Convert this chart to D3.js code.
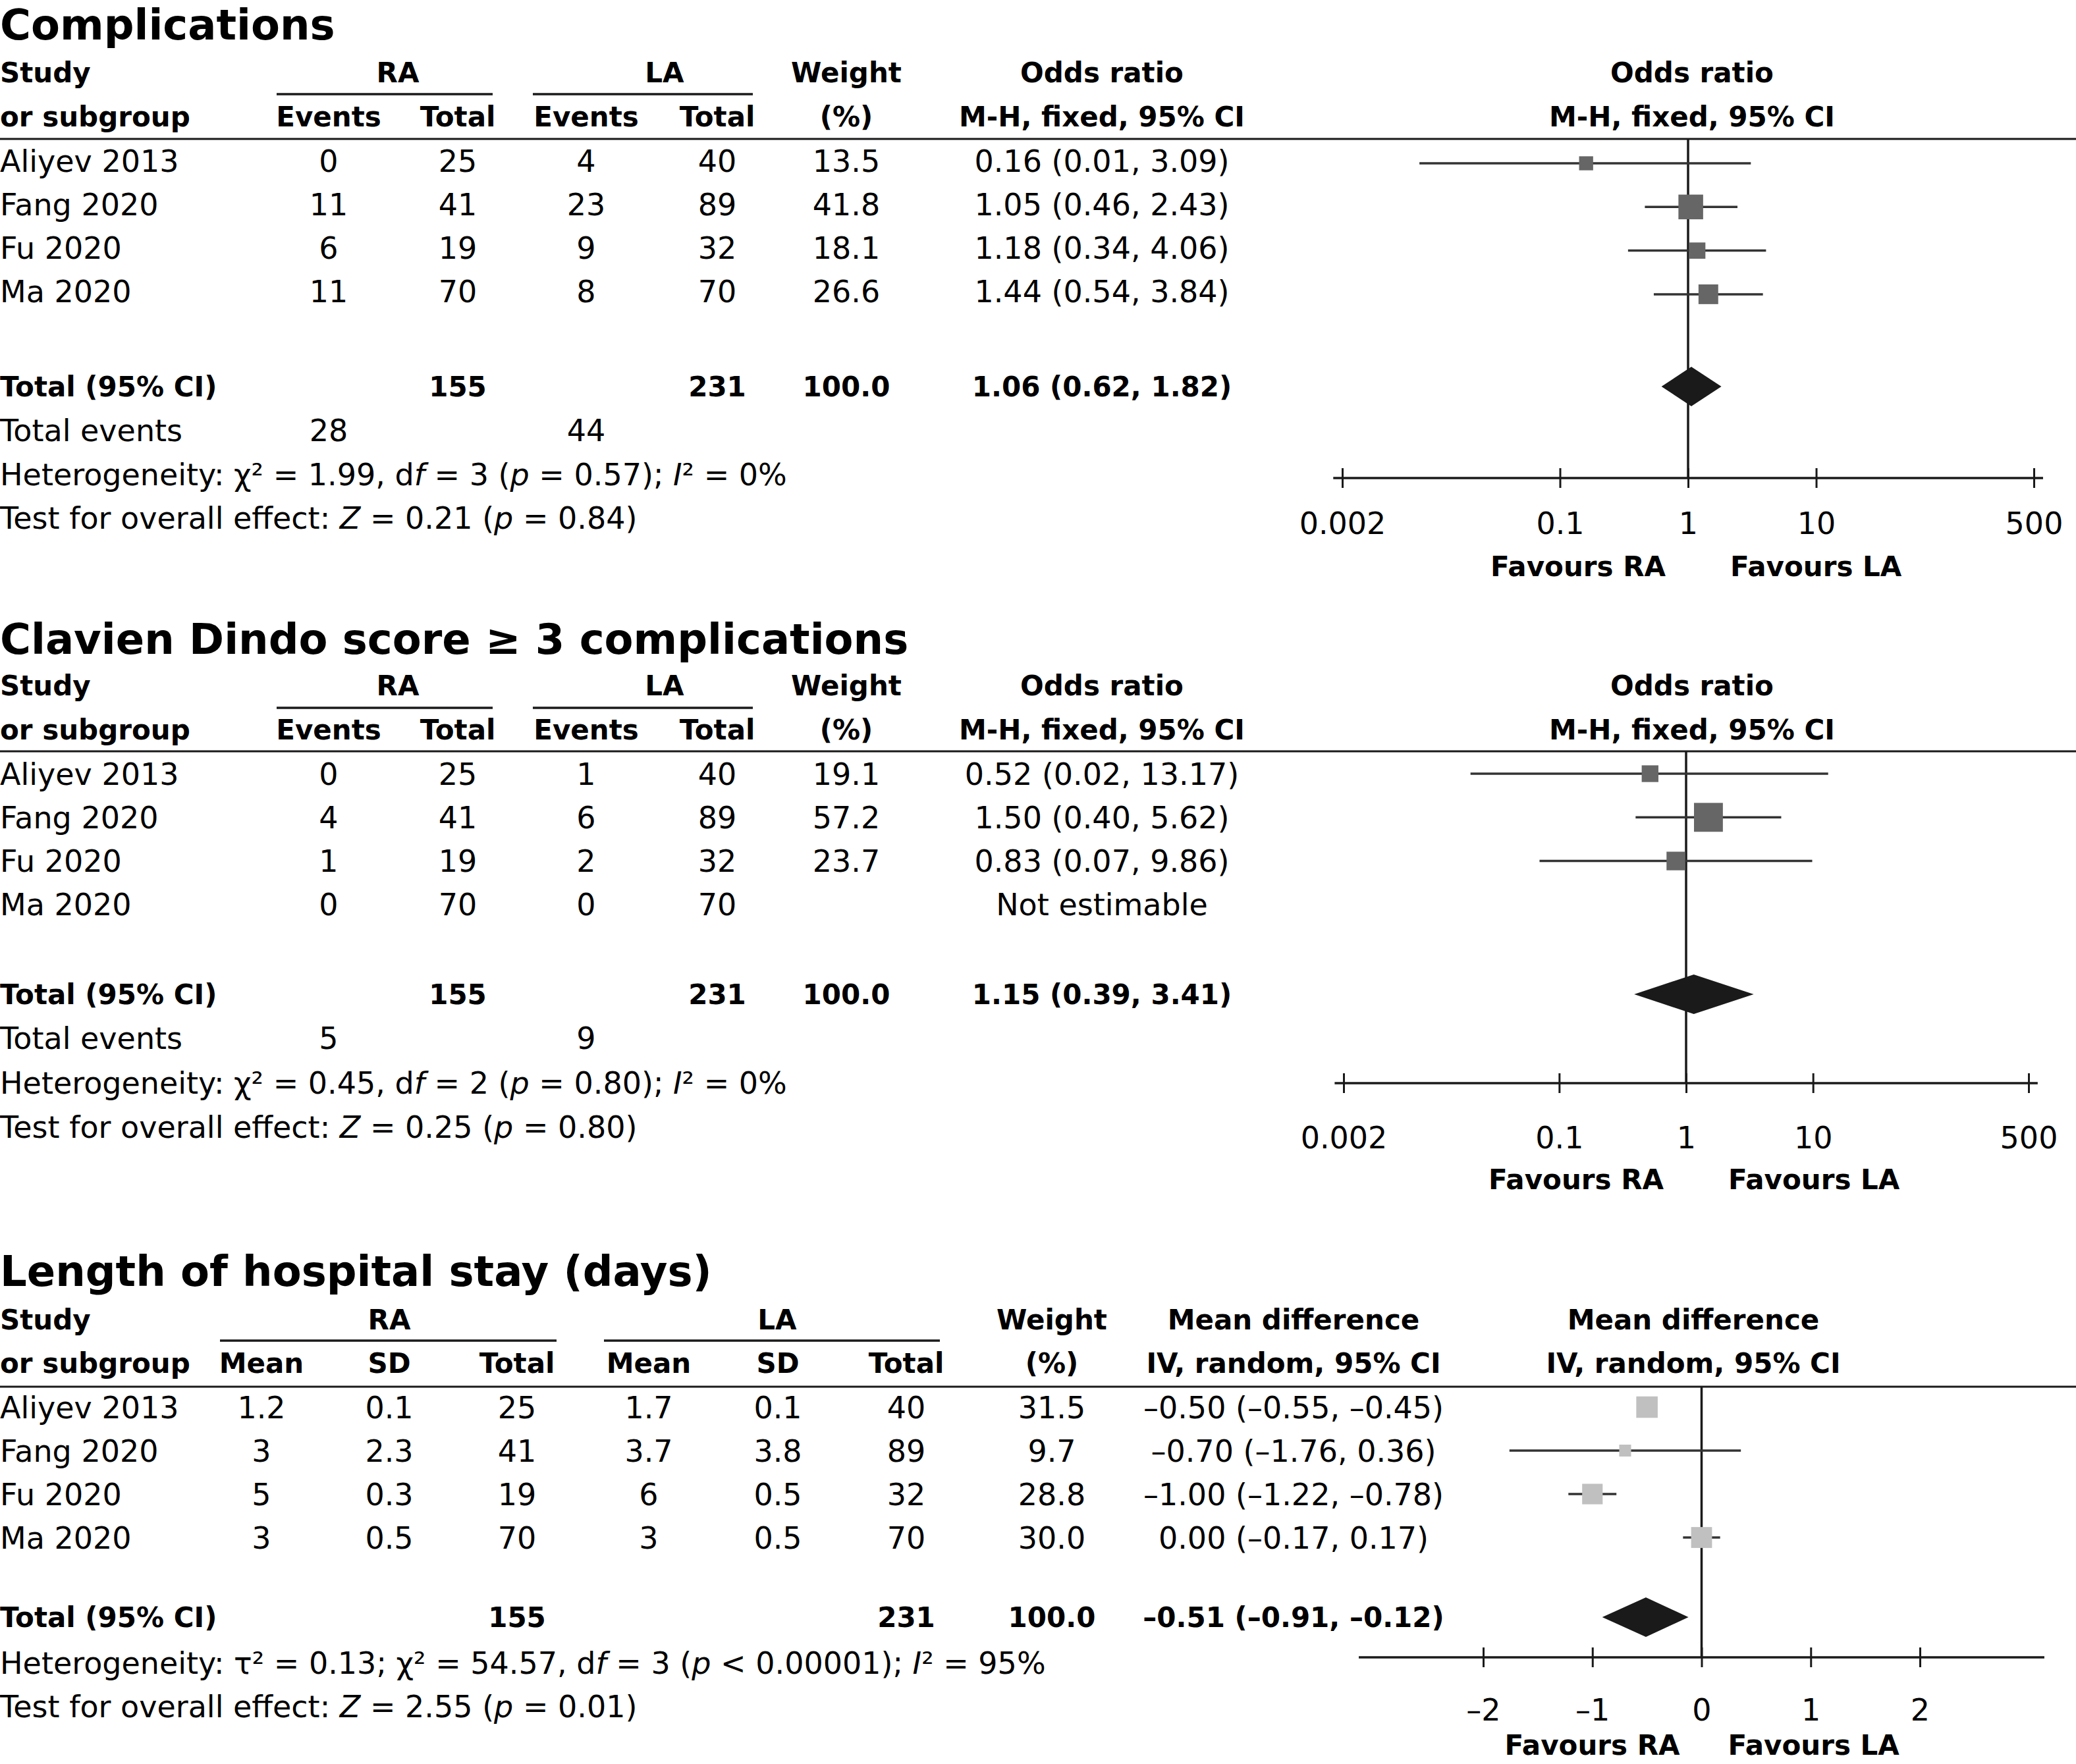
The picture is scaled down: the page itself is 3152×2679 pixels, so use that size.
<!DOCTYPE html>
<html>
<head>
<meta charset="utf-8">
<script src="https://cdn.jsdelivr.net/npm/d3@7"></script>
<style>
  html, body { margin: 0; padding: 0; background: #fff; }
  svg { display: block; font-family: "DejaVu Sans", sans-serif; }
</style>
</head>
<body>
<svg id="chart"></svg>
<script>
(function () {
    'use strict';

    const studies = ["Aliyev 2013", "Fang 2020", "Fu 2020", "Ma 2020"];

    // Complications (odds ratio, M-H fixed)
    const compEventsRA = [0, 11, 6, 11];
    const compTotalRA = [25, 41, 19, 70];
    const compEventsLA = [4, 23, 9, 8];
    const compTotalLA = [40, 89, 32, 70];
    const compWeight = [13.5, 41.8, 18.1, 26.6];
    const compOR = [0.16, 1.05, 1.18, 1.44];
    const compLower = [0.008, 0.46, 0.34, 0.54];
    const compUpper = [3.09, 2.43, 4.06, 3.84];
    const compPooled = [1.06, 0.62, 1.82];
    const compHet = [1.99, 3, 0.57, 0];      // chi2, df, p, I2
    const compZ = [0.21, 0.84];               // Z, p

    // Clavien Dindo score >= 3 complications
    const cdEventsRA = [0, 4, 1, 0];
    const cdTotalRA = [25, 41, 19, 70];
    const cdEventsLA = [1, 6, 2, 0];
    const cdTotalLA = [40, 89, 32, 70];
    const cdWeight = [19.1, 57.2, 23.7, null];
    const cdOR = [0.52, 1.50, 0.83, null];
    const cdLower = [0.02, 0.40, 0.07, null];
    const cdUpper = [13.17, 5.62, 9.86, null];
    const cdPooled = [1.15, 0.39, 3.41];
    const cdHet = [0.45, 2, 0.80, 0];
    const cdZ = [0.25, 0.80];

    // Length of hospital stay (mean difference, IV random)
    const losMeanRA = [1.2, 3, 5, 3];
    const losSdRA = [0.1, 2.3, 0.3, 0.5];
    const losTotalRA = [25, 41, 19, 70];
    const losMeanLA = [1.7, 3.7, 6, 3];
    const losSdLA = [0.1, 3.8, 0.5, 0.5];
    const losTotalLA = [40, 89, 32, 70];
    const losWeight = [31.5, 9.7, 28.8, 30.0];
    const losMD = [-0.50, -0.70, -1.00, 0.00];
    const losLower = [-0.55, -1.76, -1.22, -0.17];
    const losUpper = [-0.45, 0.36, -0.78, 0.17];
    const losPooled = [-0.51, -0.91, -0.12];
    const losHet = [0.13, 54.57, 3, 95];     // tau2, chi2, df, I2
    const losZ = [2.55, 0.01];

    const orTicks = [0.002, 0.1, 1, 10, 500];
    const orAxisExtent = [0.0017, 590];
    const mdTicks = [-2, -1, 0, 1, 2];
    const mdAxisExtent = [-3.14, 3.14];

    const W = 3152, H = 2679;
    const BODY = 46, BOLD = 42, TITLE = 64;
    const INK = "#1a1a1a";

    const svg = d3.select("#chart")
        .attr("width", W)
        .attr("height", H)
        .attr("viewBox", `0 0 ${W} ${H}`);

    svg.append("rect").attr("width", W).attr("height", H).attr("fill", "#fff");

    const f2 = v => d3.format(".2f")(v).replace(/\u2212/g, "\u2013");
    const f1 = d3.format(".1f");
    const ci = (e, l, u) => `${f2(e)} (${f2(l)}, ${f2(u)})`;
    const side = d3.scaleSqrt().domain([0, 100]).range([0, 58]);

    function txt(g, x, y, s, opt) {
        opt = opt || {};
        return g.append("text")
            .attr("x", x)
            .attr("y", y)
            .attr("dy", "0.36em")
            .attr("text-anchor", opt.anchor || "middle")
            .attr("font-size", opt.size || BODY)
            .attr("font-weight", opt.bold ? "bold" : null)
            .attr("fill", "#000")
            .text(s);
    }

    function rich(g, x, y, parts) {
        const t = g.append("text")
            .attr("x", x)
            .attr("y", y)
            .attr("dy", "0.36em")
            .attr("font-size", BODY)
            .attr("fill", "#000")
            .style("white-space", "pre");
        parts.forEach(p => {
            t.append("tspan")
                .attr("font-style", p[1] ? "italic" : null)
                .text(p[0]);
        });
    }

    function hline(g, x1, x2, y, w) {
        g.append("line")
            .attr("x1", x1).attr("x2", x2)
            .attr("y1", y).attr("y2", y)
            .attr("stroke", INK)
            .attr("stroke-width", w);
    }

    function drawPanel(c) {
        const L = c.L;
        const g = svg.append("g");

        g.append("text")
            .attr("x", 0)
            .attr("y", L.title)
            .attr("font-size", TITLE)
            .attr("font-weight", "bold")
            .text(c.title);

        txt(g, 0, L.h1, "Study", {anchor: "start", bold: true, size: BOLD});
        txt(g, 0, L.h2, "or subgroup", {anchor: "start", bold: true, size: BOLD});

        c.groups.forEach(gr => {
            txt(g, gr.x, L.h1, gr.label, {bold: true, size: BOLD});
            hline(g, gr.x0, gr.x1, L.under, 3.5);
        });
        c.headTop.forEach(h => txt(g, h[1], L.h1, h[0], {bold: true, size: BOLD}));
        c.headBottom.forEach(h => txt(g, h[1], L.h2, h[0], {bold: true, size: BOLD}));
        hline(g, 0, W, L.rule, 3);

        const y = d3.scaleLinear()
            .domain([0, studies.length - 1])
            .range([L.row0, L.row0 + (studies.length - 1) * L.step]);

        studies.forEach((s, i) => txt(g, 0, y(i), s, {anchor: "start"}));
        c.cols.forEach(col => {
            col.values.forEach((v, i) => {
                if (v !== "") txt(g, col.x, y(i), v);
            });
        });

        // total row
        txt(g, 0, L.total, "Total (95% CI)", {anchor: "start", bold: true, size: BOLD});
        c.totalRow.forEach(t => txt(g, t[1], L.total, t[0], {bold: true, size: BOLD}));

        let k = 0;
        if (c.totalEvents) {
            txt(g, 0, L.after[0], "Total events", {anchor: "start"});
            c.totalEvents.forEach(t => txt(g, t[1], L.after[0], t[0]));
            k = 1;
        }
        c.notes.forEach((parts, j) => rich(g, 0, L.after[k + j], parts));

        // forest plot
        const f = c.forest;
        const x = f.x;
        const x0 = x(f.nullVal);

        g.append("line")
            .attr("x1", x0).attr("x2", x0)
            .attr("y1", L.rule).attr("y2", L.axis)
            .attr("stroke", INK)
            .attr("stroke-width", 3.5);

        const idx = d3.range(studies.length).filter(i => f.est[i] !== null);

        g.append("g").selectAll("line")
            .data(idx)
            .join("line")
            .attr("x1", i => x(f.lo[i]))
            .attr("x2", i => x(f.hi[i]))
            .attr("y1", i => y(i) + L.markDy)
            .attr("y2", i => y(i) + L.markDy)
            .attr("stroke", "#333")
            .attr("stroke-width", 3.5);

        g.append("g").selectAll("rect")
            .data(idx)
            .join("rect")
            .attr("x", i => x(f.est[i]) - side(f.wt[i]) / 2)
            .attr("y", i => y(i) + L.markDy - side(f.wt[i]) / 2)
            .attr("width", i => side(f.wt[i]))
            .attr("height", i => side(f.wt[i]))
            .attr("fill", f.fill);

        const dh = 30;
        const pts = [
            [x(f.pooled[1]), L.total],
            [x(f.pooled[0]), L.total - dh],
            [x(f.pooled[2]), L.total],
            [x(f.pooled[0]), L.total + dh]
        ];
        g.append("path")
            .attr("d", d3.line().curve(d3.curveLinearClosed)(pts))
            .attr("fill", INK);

        // axis
        hline(g, x(f.extent[0]), x(f.extent[1]), L.axis, 3.5);
        const ga = g.append("g")
            .attr("transform", `translate(0,${L.axis})`)
            .call(d3.axisBottom(x).tickValues(f.ticks).tickFormat(f.tickFmt).tickSize(15));
        ga.attr("font-size", null).attr("font-family", null);
        ga.select(".domain").remove();
        ga.selectAll(".tick line")
            .attr("y1", -15)
            .attr("y2", 15)
            .attr("stroke", INK)
            .attr("stroke-width", 3);
        ga.selectAll(".tick text")
            .attr("y", L.tickLab - L.axis)
            .attr("dy", "0.36em")
            .attr("font-size", 46)
            .attr("fill", "#000");

        txt(g, x0 - f.fav[0], L.fav, "Favours RA", {anchor: "end", bold: true, size: BOLD});
        txt(g, x0 + f.fav[1], L.fav, "Favours LA", {anchor: "start", bold: true, size: BOLD});
    }

    // ---- panel 1: Complications ----
    drawPanel({
        title: "Complications",
        L: {title: 60, h1: 110, under: 143, h2: 177, rule: 211, row0: 244, step: 66.3,
            total: 587, after: [653, 720, 786], axis: 726, tickLab: 794, fav: 860, markDy: 4},
        groups: [
            {label: "RA", x: 604, x0: 420, x1: 748},
            {label: "LA", x: 1009, x0: 809, x1: 1143}
        ],
        headTop: [["Weight", 1285], ["Odds ratio", 1673], ["Odds ratio", 2569]],
        headBottom: [["Events", 499], ["Total", 695], ["Events", 890], ["Total", 1089],
            ["(%)", 1285], ["M-H, fixed, 95% CI", 1673], ["M-H, fixed, 95% CI", 2569]],
        cols: [
            {x: 499, values: compEventsRA.map(String)},
            {x: 695, values: compTotalRA.map(String)},
            {x: 890, values: compEventsLA.map(String)},
            {x: 1089, values: compTotalLA.map(String)},
            {x: 1285, values: compWeight.map(f1)},
            {x: 1673, values: compOR.map((e, i) => ci(e, compLower[i], compUpper[i]))}
        ],
        totalRow: [[String(d3.sum(compTotalRA)), 695], [String(d3.sum(compTotalLA)), 1089],
            [f1(100), 1285], [ci(compPooled[0], compPooled[1], compPooled[2]), 1673]],
        totalEvents: [[String(d3.sum(compEventsRA)), 499], [String(d3.sum(compEventsLA)), 890]],
        notes: [
            [["Heterogeneity: \u03c7\u00b2 = " + f2(compHet[0]) + ", d"], ["f", true],
             [" = " + compHet[1] + " ("], ["p", true], [" = " + f2(compHet[2]) + "); "],
             ["I", true], ["\u00b2 = " + compHet[3] + "%"]],
            [["Test for overall effect: "], ["Z", true], [" = " + f2(compZ[0]) + " ("],
             ["p", true], [" = " + f2(compZ[1]) + ")"]]
        ],
        forest: {
            x: d3.scaleLog().domain([0.002, 500]).range([2038, 3088]),
            ticks: orTicks, tickFmt: d => String(d), extent: orAxisExtent, nullVal: 1,
            est: compOR, lo: compLower, hi: compUpper, wt: compWeight, pooled: compPooled,
            fill: "#666", fav: [34, 64]
        }
    });

    // ---- panel 2: Clavien Dindo ----
    drawPanel({
        title: "Clavien Dindo score \u2265 3 complications",
        L: {title: 993, h1: 1041, under: 1075, h2: 1108, rule: 1141, row0: 1175, step: 66.3,
            total: 1510, after: [1576, 1644, 1711], axis: 1645, tickLab: 1727, fav: 1791, markDy: 0},
        groups: [
            {label: "RA", x: 604, x0: 420, x1: 748},
            {label: "LA", x: 1009, x0: 809, x1: 1143}
        ],
        headTop: [["Weight", 1285], ["Odds ratio", 1673], ["Odds ratio", 2569]],
        headBottom: [["Events", 499], ["Total", 695], ["Events", 890], ["Total", 1089],
            ["(%)", 1285], ["M-H, fixed, 95% CI", 1673], ["M-H, fixed, 95% CI", 2569]],
        cols: [
            {x: 499, values: cdEventsRA.map(String)},
            {x: 695, values: cdTotalRA.map(String)},
            {x: 890, values: cdEventsLA.map(String)},
            {x: 1089, values: cdTotalLA.map(String)},
            {x: 1285, values: cdWeight.map(v => v === null ? "" : f1(v))},
            {x: 1673, values: cdOR.map((e, i) => e === null ? "Not estimable" : ci(e, cdLower[i], cdUpper[i]))}
        ],
        totalRow: [[String(d3.sum(cdTotalRA)), 695], [String(d3.sum(cdTotalLA)), 1089],
            [f1(100), 1285], [ci(cdPooled[0], cdPooled[1], cdPooled[2]), 1673]],
        totalEvents: [[String(d3.sum(cdEventsRA)), 499], [String(d3.sum(cdEventsLA)), 890]],
        notes: [
            [["Heterogeneity: \u03c7\u00b2 = " + f2(cdHet[0]) + ", d"], ["f", true],
             [" = " + cdHet[1] + " ("], ["p", true], [" = " + f2(cdHet[2]) + "); "],
             ["I", true], ["\u00b2 = " + cdHet[3] + "%"]],
            [["Test for overall effect: "], ["Z", true], [" = " + f2(cdZ[0]) + " ("],
             ["p", true], [" = " + f2(cdZ[1]) + ")"]]
        ],
        forest: {
            x: d3.scaleLog().domain([0.002, 500]).range([2040, 3080]),
            ticks: orTicks, tickFmt: d => String(d), extent: orAxisExtent, nullVal: 1,
            est: cdOR, lo: cdLower, hi: cdUpper, wt: cdWeight, pooled: cdPooled,
            fill: "#666", fav: [34, 64]
        }
    });

    // ---- panel 3: Length of hospital stay ----
    drawPanel({
        title: "Length of hospital stay (days)",
        L: {title: 1953, h1: 2004, under: 2036, h2: 2070, rule: 2106, row0: 2137, step: 66,
            total: 2456, after: [2525, 2591], axis: 2517, tickLab: 2596, fav: 2650, markDy: 0},
        groups: [
            {label: "RA", x: 591, x0: 334, x1: 845},
            {label: "LA", x: 1180, x0: 917, x1: 1427}
        ],
        headTop: [["Weight", 1597], ["Mean difference", 1964], ["Mean difference", 2571]],
        headBottom: [["Mean", 397], ["SD", 591], ["Total", 785], ["Mean", 985], ["SD", 1181],
            ["Total", 1376], ["(%)", 1597], ["IV, random, 95% CI", 1964], ["IV, random, 95% CI", 2571]],
        cols: [
            {x: 397, values: losMeanRA.map(String)},
            {x: 591, values: losSdRA.map(String)},
            {x: 785, values: losTotalRA.map(String)},
            {x: 985, values: losMeanLA.map(String)},
            {x: 1181, values: losSdLA.map(String)},
            {x: 1376, values: losTotalLA.map(String)},
            {x: 1597, values: losWeight.map(f1)},
            {x: 1964, values: losMD.map((e, i) => ci(e, losLower[i], losUpper[i]))}
        ],
        totalRow: [[String(d3.sum(losTotalRA)), 785], [String(d3.sum(losTotalLA)), 1376],
            [f1(100), 1597], [ci(losPooled[0], losPooled[1], losPooled[2]), 1964]],
        totalEvents: null,
        notes: [
            [["Heterogeneity: \u03c4\u00b2 = " + f2(losHet[0]) + "; \u03c7\u00b2 = " + f2(losHet[1]) + ", d"],
             ["f", true], [" = " + losHet[2] + " ("], ["p", true], [" < 0.00001); "],
             ["I", true], ["\u00b2 = " + losHet[3] + "%"]],
            [["Test for overall effect: "], ["Z", true], [" = " + f2(losZ[0]) + " ("],
             ["p", true], [" = " + f2(losZ[1]) + ")"]]
        ],
        forest: {
            x: d3.scaleLinear().domain([-2, 2]).range([2252, 2915]),
            ticks: mdTicks, tickFmt: d => String(d).replace("-", "\u2013"), extent: mdAxisExtent, nullVal: 0,
            est: losMD, lo: losLower, hi: losUpper, wt: losWeight, pooled: losPooled,
            fill: "#c0c0c0", fav: [33, 40]
        }
    });
}());
</script>
</body>
</html>
